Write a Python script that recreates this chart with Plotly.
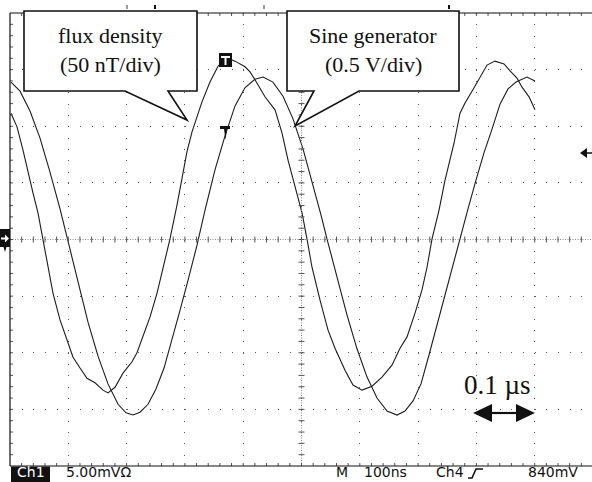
import plotly.graph_objects as go

# Time in ns from the left edge of the graticule (100 ns/div); amplitude in screen divisions
time_flux = [1.7, 12, 22.3, 30.9, 39.5, 48, 56.6, 65.2, 73.8, 85.8, 97.8, 108.1, 120.1, 132.1,
             145.8, 159.5, 168.1, 180.1, 193.8, 209.3, 217.8, 228.1, 240.1, 252.1, 262.4, 274.4,
             286.5, 295, 303.6, 312.2, 320.8, 329.3, 343, 356.8, 370.5, 386, 403.1, 411.7, 420.2,
             437.4, 454.6, 466.6, 476.9, 488.9, 500.9, 509.4, 518, 531.8, 545.5, 557.5, 574.6,
             588.3, 603.8, 620.9, 638.1, 655.2, 669, 681, 694.7, 706.7, 715.3, 723.9, 735.9,
             746.2, 761.6, 771.9, 780.5, 796, 806.2, 818.2, 831.9, 847.4, 857.7, 869.7, 878.2,
             890.3, 900.5]
flux_div = [2.23, 1.99, 1.58, 1.17, 0.82, 0.47, 0.01, -0.49, -0.95, -1.42, -1.78, -2.08, -2.27,
            -2.45, -2.53, -2.66, -2.71, -2.61, -2.36, -2.16, -2.00, -1.72, -1.37, -0.95, -0.49,
            0.01, 0.61, 1.09, 1.55, 1.90, 2.15, 2.43, 2.78, 3.06, 3.21, 3.15, 3.05, 2.96, 2.82,
            2.52, 2.29, 1.88, 1.40, 0.93, 0.47, 0.01, -0.49, -1.07, -1.60, -1.92, -2.31, -2.57,
            -2.66, -2.59, -2.43, -2.22, -1.92, -1.72, -1.30, -0.89, -0.49, 0.01, 0.52, 1.05,
            1.70, 2.23, 2.41, 2.68, 2.87, 3.08, 3.15, 3.10, 2.98, 2.85, 2.69, 2.52, 2.29]

time_sine = [1.7, 17.2, 34.3, 51.5, 68.6, 85.8, 99.5, 116.6, 133.8, 151, 168.1, 185.3, 199, 211,
             223, 236.7, 250.4, 264.2, 277.9, 291.6, 305.3, 320.8, 334.5, 351.6, 368.8, 386, 403,
             420, 434, 451, 468.3, 485.4, 502.6, 519.7, 533.5, 543.7, 561, 578, 595.2, 612.4,
             629.5, 646.7, 663.8, 677.5, 691.3, 705, 718.7, 732.4, 746.2, 760, 771.9, 785.6,
             799.3, 813, 826.8, 840.5, 854.2, 868, 886.8, 900.5]
sine_div = [2.78, 2.62, 2.27, 1.79, 1.19, 0.54, -0.03, -0.77, -1.46, -2.06, -2.55, -2.91, -3.06,
            -3.10, -3.05, -2.91, -2.64, -2.27, -1.77, -1.25, -0.72, -0.10, 0.52, 1.23, 1.83, 2.36,
            2.68, 2.83, 2.87, 2.78, 2.53, 2.13, 1.60, 0.96, 0.43, 0.01, -0.68, -1.33, -1.93,
            -2.43, -2.80, -3.03, -3.10, -3.03, -2.85, -2.55, -2.04, -1.51, -0.98, -0.40, 0.01,
            0.54, 1.05, 1.53, 1.95, 2.39, 2.66, 2.78, 2.87, 2.80]

callout_flux = ["flux density", "(50 nT/div)"]
callout_sine = ["Sine generator", "(0.5 V/div)"]
scale_label = "0.1 \u00b5s"
status_left = ["Ch1", "5.00mV\u03a9"]
status_right = ["M", "100ns", "Ch4", "840mV"]

W, H = 592, 482
ML, MR, MT, MB = 10, 0, 13, 16
PW, PH = W - ML - MR, H - MT - MB
PX_PER_DIV_X = 58.3
X_MAX = PW / PX_PER_DIV_X * 100.0


def px(x):
    return (x - ML) / PW


def py(y):
    return (H - MB - y) / PH


def poly(points, close=True):
    s = "M" + " L".join(f"{px(x):.5f},{py(y):.5f}" for x, y in points)
    return s + (" Z" if close else "")


fig = go.Figure()
trace_color = "#1c1c1c"
fig.add_trace(go.Scatter(x=time_sine, y=sine_div, mode="lines",
                         line=dict(color=trace_color, width=1.1), hoverinfo="skip"))
fig.add_trace(go.Scatter(x=time_flux, y=flux_div, mode="lines",
                         line=dict(color=trace_color, width=1.1), hoverinfo="skip"))

shapes = []
grid_color = "#5a5a5a"

# center cross-hair: finely dotted lines with minor ticks
shapes.append(dict(type="line", xref="x", yref="y", x0=0, x1=X_MAX, y0=0, y1=0,
                   line=dict(color="#8a8a8a", width=1, dash="1px,1.5px")))
shapes.append(dict(type="line", xref="x", yref="y", x0=500, x1=500, y0=-4, y1=4,
                   line=dict(color="#8a8a8a", width=1, dash="1px,1.5px")))
tick_dx = 100 / PX_PER_DIV_X * 3.0   # 3 px in ns
tick_dy = 3.0 / (PH / 8.0)          # 3 px in div
ticks = []
for k in range(1, 50):
    x = k * 20
    ticks.append(f"M{x},{-tick_dy:.4f} L{x},{tick_dy:.4f}")
    ticks.append(f"M{x},4 L{x},{4 - tick_dy:.4f}")
    ticks.append(f"M{x},-4 L{x},{-4 + tick_dy:.4f}")
for k in range(-19, 20):
    y = k * 0.2
    ticks.append(f"M{500 - tick_dx:.3f},{y:.2f} L{500 + tick_dx:.3f},{y:.2f}")
    ticks.append(f"M0,{y:.2f} L{tick_dx:.3f},{y:.2f}")
shapes.append(dict(type="path", xref="x", yref="y", path=" ".join(ticks),
                   line=dict(color="#555555", width=1)))

# graticule frame (left, top, bottom)
for x0, y0, x1, y1 in [(0, 0, 0, 1), (0, 1, 1, 1), (0, 0, 1, 0)]:
    shapes.append(dict(type="line", xref="paper", yref="paper", x0=x0, y0=y0, x1=x1, y1=y1,
                       line=dict(color="#111111", width=1.2)))

# small marks above the frame
for x, c in [(127, "#9a9a9a"), (155, "#111111"), (264, "#9a9a9a"), (449, "#111111")]:
    shapes.append(dict(type="line", xref="paper", yref="paper", x0=px(x), x1=px(x),
                       y0=py(5), y1=py(9), line=dict(color=c, width=2)))

# ground reference marker at the left edge
shapes.append(dict(type="path", xref="paper", yref="paper",
                   path=poly([(0, 229), (10, 229), (10, 247), (6.5, 247), (5, 252), (3.5, 247), (0, 247)]),
                   fillcolor="#111111", line=dict(width=0)))
shapes.append(dict(type="path", xref="paper", yref="paper",
                   path=poly([(1, 237.5), (5, 237.5), (5, 234.5), (9, 238.5), (5, 242.5), (5, 239.5), (1, 239.5)]),
                   fillcolor="white", line=dict(width=0)))

# trigger level arrow at the right edge
shapes.append(dict(type="path", xref="paper", yref="paper",
                   path=poly([(580, 153), (587, 148), (587, 158)]),
                   fillcolor="#111111", line=dict(width=0)))
shapes.append(dict(type="line", xref="paper", yref="paper", x0=px(586), x1=px(592),
                   y0=py(153), y1=py(153), line=dict(color="#111111", width=1.5)))

# trigger markers
shapes.append(dict(type="rect", xref="paper", yref="paper", x0=px(219), x1=px(232),
                   y0=py(67), y1=py(53), fillcolor="#111111", line=dict(width=0)))
shapes.append(dict(type="path", xref="paper", yref="paper",
                   path=poly([(221, 56), (230, 56), (230, 58), (226.5, 58), (226.5, 65),
                              (224.5, 65), (224.5, 58), (221, 58)]),
                   fillcolor="white", line=dict(width=0)))
shapes.append(dict(type="path", xref="paper", yref="paper",
                   path=poly([(220, 126), (230, 126), (230, 129), (227, 129), (225.5, 140),
                              (224, 129), (220, 129)]),
                   fillcolor="#111111", line=dict(width=0)))

# callout balloons
shapes.append(dict(type="path", xref="paper", yref="paper",
                   path=poly([(24, 11), (197, 11), (197, 91), (168, 91), (187, 120), (125, 91), (24, 91)]),
                   fillcolor="white", line=dict(color="#111111", width=1.6)))
shapes.append(dict(type="path", xref="paper", yref="paper",
                   path=poly([(287, 11), (459, 11), (459, 91), (359, 91), (295, 126), (314, 91), (287, 91)]),
                   fillcolor="white", line=dict(color="#111111", width=1.6)))

# 0.1 us scale arrow
shapes.append(dict(type="line", xref="paper", yref="paper", x0=px(488), x1=px(520),
                   y0=py(413), y1=py(413), line=dict(color="#111111", width=2.2)))
shapes.append(dict(type="path", xref="paper", yref="paper",
                   path=poly([(473, 413), (492, 404), (492, 422)]),
                   fillcolor="#111111", line=dict(width=0)))
shapes.append(dict(type="path", xref="paper", yref="paper",
                   path=poly([(535, 413), (516, 404), (516, 422)]),
                   fillcolor="#111111", line=dict(width=0)))

# status bar: inverse "Ch1" badge and rising-edge glyph
shapes.append(dict(type="rect", xref="paper", yref="paper", x0=px(11), x1=px(50),
                   y0=py(482), y1=py(466.5), fillcolor="#111111", line=dict(width=0)))
shapes.append(dict(type="path", xref="paper", yref="paper",
                   path=poly([(468, 478), (472, 478), (476, 469), (483, 469)], close=False),
                   line=dict(color="#111111", width=1.6)))

serif = dict(family="Liberation Serif", size=22, color="#111111")
status_font = dict(family="DejaVu Sans", size=14, color="#111111")
ann = []
for text, x, y in [(callout_flux[0], 110, 35), (callout_flux[1], 110, 64),
                   (callout_sine[0], 373, 35), (callout_sine[1], 373, 64)]:
    ann.append(dict(text=text, x=px(x), y=py(y), xref="paper", yref="paper",
                    xanchor="center", yanchor="middle", showarrow=False, font=serif))
ann.append(dict(text=scale_label, x=px(497), y=py(385), xref="paper", yref="paper",
                xanchor="center", yanchor="middle", showarrow=False,
                font=dict(family="Liberation Serif", size=27, color="#111111")))
ann.append(dict(text=status_left[0], x=px(30.5), y=py(472), xref="paper", yref="paper",
                xanchor="center", yanchor="middle", showarrow=False,
                font=dict(family="DejaVu Sans", size=14, color="white")))
for text, x in [(status_left[1], 64), (status_right[0], 334), (status_right[1], 362),
                (status_right[2], 434), (status_right[3], 526)]:
    ann.append(dict(text=text, x=px(x), y=py(472), xref="paper", yref="paper",
                    xanchor="left", yanchor="middle", showarrow=False, font=status_font))

fig.update_layout(
    width=W, height=H,
    margin=dict(l=ML, r=MR, t=MT, b=MB, pad=0),
    paper_bgcolor="white", plot_bgcolor="white",
    showlegend=False,
    shapes=shapes, annotations=ann,
    xaxis=dict(range=[0, X_MAX], dtick=100, tick0=0, showgrid=True, gridcolor=grid_color,
               gridwidth=1, griddash="1px,10.325px", zeroline=False, showline=False,
               showticklabels=False, ticks="", fixedrange=True),
    yaxis=dict(range=[-4, 4], dtick=1, tick0=0, showgrid=True, gridcolor=grid_color,
               gridwidth=1, griddash="1px,10.66px", zeroline=False, showline=False,
               showticklabels=False, ticks="", fixedrange=True),
)

fig.write_html("out.html")
